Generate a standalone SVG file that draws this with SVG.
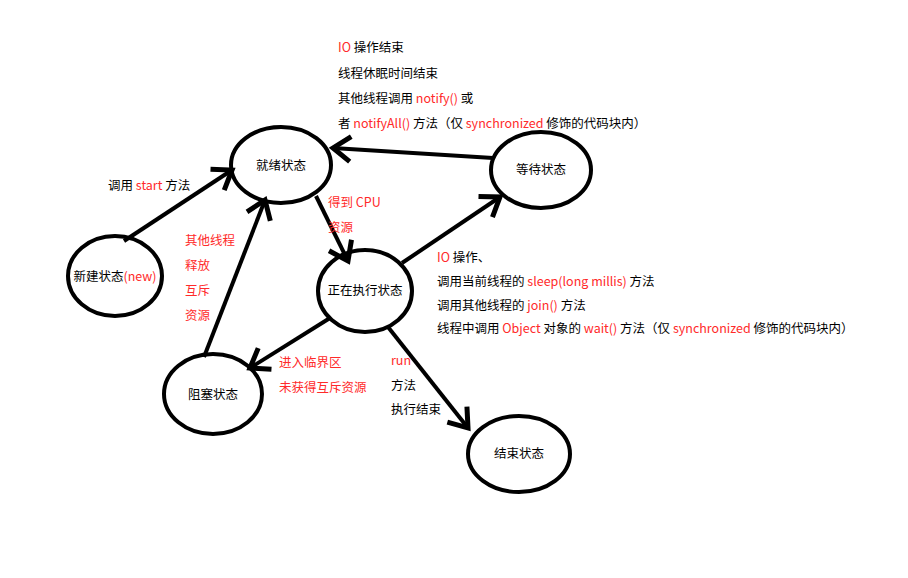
<svg xmlns="http://www.w3.org/2000/svg" width="908" height="578" viewBox="0 0 908 578">
<style>
.n{fill:none;stroke:#000;stroke-width:4}
.e{fill:none;stroke:#000;stroke-width:4;marker-end:url(#a)}
text{font-family:"Microsoft YaHei","Noto Sans CJK SC",sans-serif;font-size:12.5px;fill:#000}
.r{fill:#ff2a2a}
</style>
<defs><marker id="a" markerUnits="userSpaceOnUse" markerWidth="30" markerHeight="30" refX="18" refY="12" viewBox="0 0 24 24" orient="auto"><polyline points="4,2 18,12 4,22" fill="none" stroke="#000" stroke-width="4"/></marker></defs>
<rect width="908" height="578" fill="#fff"/>
<g id="ready"><ellipse class="n" cx="281" cy="165" rx="50" ry="38"/><text x="281" y="170" text-anchor="middle">就绪状态</text></g>
<g id="waiting"><ellipse class="n" cx="541" cy="170" rx="50" ry="38"/><text x="541" y="174" text-anchor="middle">等待状态</text></g>
<g id="new"><ellipse class="n" cx="115" cy="276" rx="47" ry="40"/><text x="115" y="281" text-anchor="middle">新建状态<tspan class="r">(new)</tspan></text></g>
<g id="running"><ellipse class="n" cx="365" cy="291" rx="47" ry="41"/><text x="365" y="295" text-anchor="middle">正在执行状态</text></g>
<g id="blocked"><ellipse class="n" cx="213" cy="394" rx="49" ry="40"/><text x="213" y="399" text-anchor="middle">阻塞状态</text></g>
<g id="end"><ellipse class="n" cx="519" cy="454" rx="51" ry="38"/><text x="519" y="458" text-anchor="middle">结束状态</text></g>
<g id="edges">
<line class="e" x1="124" y1="241" x2="232" y2="170"/>
<line class="e" x1="316" y1="196" x2="348" y2="261"/>
<line class="e" x1="402" y1="263" x2="500" y2="197"/>
<line class="e" x1="493" y1="158" x2="333" y2="148"/>
<line class="e" x1="204" y1="357" x2="265" y2="200"/>
<line class="e" x1="330" y1="318" x2="250" y2="368"/>
<line class="e" x1="388" y1="327" x2="468" y2="428"/>
</g>
<g id="labels">
<text x="338" y="52"><tspan class="r">IO</tspan> 操作结束</text>
<text x="338" y="78">线程休眠时间结束</text>
<text x="338" y="103">其他线程调用 <tspan class="r">notify()</tspan> 或</text>
<text x="338" y="128">者 <tspan class="r">notifyAll()</tspan> 方法（仅 <tspan class="r">synchronized</tspan> 修饰的代码块内）</text>
<text x="108" y="190">调用 <tspan class="r">start</tspan> 方法</text>
<text x="328" y="207" class="r">得到 CPU</text>
<text x="328" y="232" class="r">资源</text>
<text x="185" y="245" class="r">其他线程</text>
<text x="185" y="270" class="r">释放</text>
<text x="185" y="295" class="r">互斥</text>
<text x="185" y="320" class="r">资源</text>
<text x="437" y="262"><tspan class="r">IO</tspan> 操作、</text>
<text x="437" y="286">调用当前线程的 <tspan class="r">sleep(long millis)</tspan> 方法</text>
<text x="437" y="310">调用其他线程的 <tspan class="r">join()</tspan> 方法</text>
<text x="437" y="333">线程中调用 <tspan class="r">Object</tspan> 对象的 <tspan class="r">wait()</tspan> 方法（仅 <tspan class="r">synchronized</tspan> 修饰的代码块内）</text>
<text x="279" y="367" class="r">进入临界区</text>
<text x="279" y="392" class="r">未获得互斥资源</text>
<text x="391" y="365" class="r">run</text>
<text x="391" y="390">方法</text>
<text x="391" y="414">执行结束</text>
</g>
</svg>
